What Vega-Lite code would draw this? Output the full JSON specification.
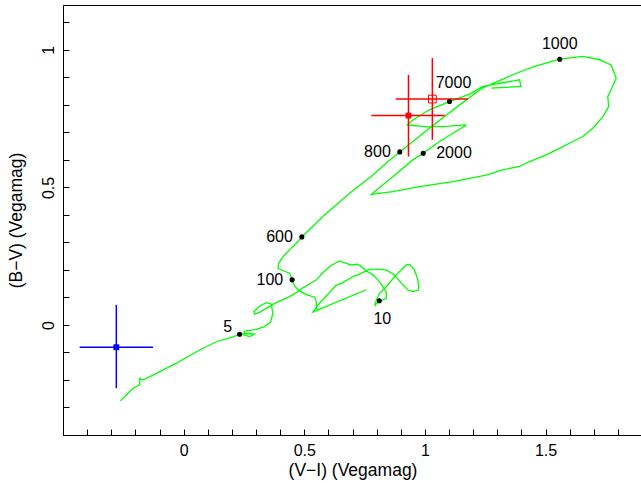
{
  "$schema": "https://vega.github.io/schema/vega-lite/v6.json",
  "width": 579,
  "height": 430,
  "autosize": "none",
  "padding": {"left": 63, "top": 5, "right": 0, "bottom": 48},
  "config": {
    "view": {"stroke": "black", "strokeWidth": 1},
    "font": "Liberation Sans",
    "axis": {"grid": false, "labelFont": "Liberation Sans", "titleFont": "Liberation Sans", "labelColor": "black", "titleColor": "black", "tickColor": "black", "domainColor": "black", "titleFontWeight": "normal", "tickWidth": 1, "domainWidth": 1, "labelFlush": false, "labelOverlap": false}
  },
  "datasets": {
    "track": [
      {"i":1,"vi":-0.262,"bv":-0.276},{"i":2,"vi":-0.252,"bv":-0.267},{"i":3,"vi":-0.231,"bv":-0.248},{"i":4,"vi":-0.210,"bv":-0.230},
      {"i":5,"vi":-0.182,"bv":-0.218},{"i":6,"vi":-0.182,"bv":-0.194},{"i":7,"vi":-0.169,"bv":-0.200},{"i":8,"vi":-0.113,"bv":-0.176},
      {"i":9,"vi":-0.030,"bv":-0.139},{"i":10,"vi":0.066,"bv":-0.091},{"i":11,"vi":0.136,"bv":-0.061},{"i":12,"vi":0.204,"bv":-0.043},
      {"i":13,"vi":0.232,"bv":-0.034},{"i":14,"vi":0.261,"bv":-0.031},{"i":15,"vi":0.294,"bv":-0.033},{"i":16,"vi":0.274,"bv":-0.042},
      {"i":17,"vi":0.249,"bv":-0.036},{"i":18,"vi":0.253,"bv":-0.022},{"i":19,"vi":0.301,"bv":-0.016},{"i":20,"vi":0.336,"bv":-0.006},
      {"i":21,"vi":0.361,"bv":0.012},{"i":22,"vi":0.370,"bv":0.043},{"i":23,"vi":0.363,"bv":0.076},{"i":24,"vi":0.343,"bv":0.081},
      {"i":25,"vi":0.315,"bv":0.069},{"i":26,"vi":0.291,"bv":0.048},{"i":27,"vi":0.294,"bv":0.039},{"i":28,"vi":0.315,"bv":0.046},
      {"i":29,"vi":0.349,"bv":0.064},{"i":30,"vi":0.384,"bv":0.081},{"i":31,"vi":0.439,"bv":0.103},{"i":32,"vi":0.474,"bv":0.121},
      {"i":33,"vi":0.494,"bv":0.135},{"i":34,"vi":0.522,"bv":0.149},{"i":35,"vi":0.551,"bv":0.164},{"i":36,"vi":0.576,"bv":0.189},
      {"i":37,"vi":0.609,"bv":0.215},{"i":38,"vi":0.646,"bv":0.233},{"i":39,"vi":0.674,"bv":0.224},{"i":40,"vi":0.695,"bv":0.218},
      {"i":41,"vi":0.722,"bv":0.221},{"i":42,"vi":0.736,"bv":0.212},{"i":43,"vi":0.757,"bv":0.197},{"i":44,"vi":0.785,"bv":0.182},
      {"i":45,"vi":0.805,"bv":0.164},{"i":46,"vi":0.826,"bv":0.139},{"i":47,"vi":0.840,"bv":0.117},{"i":48,"vi":0.840,"bv":0.097},
      {"i":49,"vi":0.826,"bv":0.091},{"i":50,"vi":0.811,"bv":0.088},{"i":51,"vi":0.792,"bv":0.070},{"i":52,"vi":0.799,"bv":0.091},
      {"i":53,"vi":0.812,"bv":0.115},{"i":54,"vi":0.840,"bv":0.139},{"i":55,"vi":0.881,"bv":0.182},{"i":56,"vi":0.923,"bv":0.218},
      {"i":57,"vi":0.937,"bv":0.220},{"i":58,"vi":0.957,"bv":0.200},{"i":59,"vi":0.971,"bv":0.164},{"i":60,"vi":0.975,"bv":0.127},
      {"i":61,"vi":0.950,"bv":0.121},{"i":62,"vi":0.930,"bv":0.127},{"i":63,"vi":0.902,"bv":0.152},{"i":64,"vi":0.874,"bv":0.182},
      {"i":65,"vi":0.840,"bv":0.200},{"i":66,"vi":0.799,"bv":0.203},{"i":67,"vi":0.771,"bv":0.203},{"i":68,"vi":0.722,"bv":0.182},
      {"i":69,"vi":0.702,"bv":0.176},{"i":70,"vi":0.654,"bv":0.151},{"i":71,"vi":0.633,"bv":0.145},{"i":72,"vi":0.571,"bv":0.086},
      {"i":73,"vi":0.550,"bv":0.065},{"i":74,"vi":0.536,"bv":0.047},{"i":75,"vi":0.557,"bv":0.055},{"i":76,"vi":0.757,"bv":0.128},
      {"i":77,"vi":0.557,"bv":0.055},{"i":78,"vi":0.550,"bv":0.062},{"i":79,"vi":0.550,"bv":0.086},{"i":80,"vi":0.543,"bv":0.101},
      {"i":81,"vi":0.509,"bv":0.110},{"i":82,"vi":0.481,"bv":0.123},{"i":83,"vi":0.460,"bv":0.141},{"i":84,"vi":0.450,"bv":0.164},
      {"i":85,"vi":0.439,"bv":0.188},{"i":86,"vi":0.412,"bv":0.197},{"i":87,"vi":0.391,"bv":0.206},{"i":88,"vi":0.394,"bv":0.224},
      {"i":89,"vi":0.412,"bv":0.248},{"i":90,"vi":0.439,"bv":0.273},{"i":91,"vi":0.467,"bv":0.297},{"i":92,"vi":0.490,"bv":0.320},
      {"i":93,"vi":0.577,"bv":0.394},{"i":94,"vi":0.688,"bv":0.479},{"i":95,"vi":0.785,"bv":0.545},{"i":96,"vi":0.847,"bv":0.594},
      {"i":97,"vi":0.896,"bv":0.629},{"i":98,"vi":1.019,"bv":0.715},{"i":99,"vi":1.144,"bv":0.800},{"i":100,"vi":1.240,"bv":0.862},
      {"i":101,"vi":1.317,"bv":0.891},{"i":102,"vi":1.379,"bv":0.915},{"i":103,"vi":1.455,"bv":0.940},{"i":104,"vi":1.559,"bv":0.966},
      {"i":105,"vi":1.655,"bv":0.976},{"i":106,"vi":1.724,"bv":0.964},{"i":107,"vi":1.772,"bv":0.945},{"i":108,"vi":1.793,"bv":0.897},
      {"i":109,"vi":1.772,"bv":0.855},{"i":110,"vi":1.758,"bv":0.830},{"i":111,"vi":1.762,"bv":0.794},{"i":112,"vi":1.738,"bv":0.757},
      {"i":113,"vi":1.696,"bv":0.715},{"i":114,"vi":1.655,"bv":0.685},{"i":115,"vi":1.613,"bv":0.667},{"i":116,"vi":1.558,"bv":0.642},
      {"i":117,"vi":1.503,"bv":0.618},{"i":118,"vi":1.434,"bv":0.594},{"i":119,"vi":1.392,"bv":0.576},{"i":120,"vi":1.323,"bv":0.564},
      {"i":121,"vi":1.254,"bv":0.545},{"i":122,"vi":1.116,"bv":0.521},{"i":123,"vi":0.978,"bv":0.503},{"i":124,"vi":0.867,"bv":0.485},
      {"i":125,"vi":0.778,"bv":0.475},{"i":126,"vi":0.867,"bv":0.539},{"i":127,"vi":0.950,"bv":0.600},{"i":128,"vi":0.993,"bv":0.624},
      {"i":129,"vi":1.061,"bv":0.667},{"i":130,"vi":1.172,"bv":0.727},{"i":131,"vi":1.089,"bv":0.722},{"i":132,"vi":1.011,"bv":0.720},
      {"i":133,"vi":0.927,"bv":0.727},{"i":134,"vi":0.950,"bv":0.745},{"i":135,"vi":1.019,"bv":0.782},{"i":136,"vi":1.102,"bv":0.812},
      {"i":137,"vi":1.185,"bv":0.839},{"i":138,"vi":1.240,"bv":0.867},{"i":139,"vi":1.392,"bv":0.891},{"i":140,"vi":1.399,"bv":0.867},
      {"i":141,"vi":1.275,"bv":0.861}
    ],
    "obs": [
      {"src":"A","vi":-0.279,"bv":-0.081,"vi_lo":-0.431,"vi_hi":-0.127,"bv_lo":-0.230,"bv_hi":0.073,"open":false},
      {"src":"B","vi":0.932,"bv":0.761,"vi_lo":0.778,"vi_hi":1.082,"bv_lo":0.612,"bv_hi":0.909,"open":false},
      {"src":"C","vi":1.031,"bv":0.821,"vi_lo":0.879,"vi_hi":1.178,"bv_lo":0.673,"bv_hi":0.970,"open":true}
    ],
    "ages": [
      {"age":"5","vi":0.232,"bv":-0.034},
      {"age":"10","vi":0.811,"bv":0.088},
      {"age":"100","vi":0.450,"bv":0.164},
      {"age":"600","vi":0.490,"bv":0.320},
      {"age":"800","vi":0.896,"bv":0.629},
      {"age":"1000","vi":1.559,"bv":0.966},
      {"age":"2000","vi":0.993,"bv":0.624},
      {"age":"7000","vi":1.102,"bv":0.812}
    ]
  },
  "layer": [
    {
      "data": {"name": "track"},
      "mark": {"type": "line", "color": "#00ff00", "strokeWidth": 1.3},
      "encoding": {
        "x": {"field": "vi", "type": "quantitative", "scale": {"domain": [-0.5, 1.9], "nice": false, "zero": false},
              "axis": {"orient": "bottom", "values": [-0.4, -0.3, -0.2, -0.1, 0, 0.1, 0.2, 0.3, 0.4, 0.5, 0.6, 0.7, 0.8, 0.9, 1, 1.1, 1.2, 1.3, 1.4, 1.5, 1.6, 1.7, 1.8],
                       "labelExpr": "abs(datum.value*2 - round(datum.value*2)) < 0.001 ? format(datum.value, '~g') : ''",
                       "ticks": true, "tickSize": -6, "domain": true, "labelFontSize": 16, "labelPadding": 13, "title": "(V−I) (Vegamag)", "titleFontSize": 17.5, "titlePadding": 3}},
        "y": {"field": "bv", "type": "quantitative", "scale": {"domain": [-0.4, 1.163], "nice": false, "zero": false},
              "axis": {"orient": "left", "values": [-0.3, -0.2, -0.1, 0, 0.1, 0.2, 0.3, 0.4, 0.5, 0.6, 0.7, 0.8, 0.9, 1, 1.1],
                       "labelExpr": "abs(datum.value*2 - round(datum.value*2)) < 0.001 ? format(datum.value, '~g') : ''",
                       "ticks": true, "tickSize": -6, "domain": true, "labelFontSize": 16, "labelPadding": 13, "labelAngle": -90, "labelAlign": "center", "labelBaseline": "bottom", "title": "(B−V) (Vegamag)", "titleFontSize": 17.5, "titlePadding": 15}},
        "order": {"field": "i", "type": "quantitative"}
      }
    },
    {
      "data": {"name": "obs"},
      "mark": {"type": "rule", "strokeWidth": 1.5},
      "encoding": {
        "x": {"field": "vi_lo", "type": "quantitative", "scale": {"domain": [-0.5, 1.9], "nice": false, "zero": false}, "axis": null},
        "x2": {"field": "vi_hi"},
        "y": {"field": "bv", "type": "quantitative", "scale": {"domain": [-0.4, 1.163], "nice": false, "zero": false}, "axis": null},
        "color": {"field": "src", "type": "nominal", "scale": {"domain": ["A", "B", "C"], "range": ["#0000ff", "#ff0000", "#ff0000"]}, "legend": null}
      }
    },
    {
      "data": {"name": "obs"},
      "mark": {"type": "rule", "strokeWidth": 1.5},
      "encoding": {
        "x": {"field": "vi", "type": "quantitative", "scale": {"domain": [-0.5, 1.9], "nice": false, "zero": false}, "axis": null},
        "y": {"field": "bv_lo", "type": "quantitative", "scale": {"domain": [-0.4, 1.163], "nice": false, "zero": false}, "axis": null},
        "y2": {"field": "bv_hi"},
        "color": {"field": "src", "type": "nominal", "scale": {"domain": ["A", "B", "C"], "range": ["#0000ff", "#ff0000", "#ff0000"]}, "legend": null}
      }
    },
    {
      "data": {"name": "obs"},
      "transform": [{"filter": "!datum.open"}],
      "mark": {"type": "square", "filled": true, "size": 34, "opacity": 1},
      "encoding": {
        "x": {"field": "vi", "type": "quantitative", "scale": {"domain": [-0.5, 1.9], "nice": false, "zero": false}, "axis": null},
        "y": {"field": "bv", "type": "quantitative", "scale": {"domain": [-0.4, 1.163], "nice": false, "zero": false}, "axis": null},
        "color": {"field": "src", "type": "nominal", "scale": {"domain": ["A", "B", "C"], "range": ["#0000ff", "#ff0000", "#ff0000"]}, "legend": null}
      }
    },
    {
      "data": {"name": "obs"},
      "transform": [{"filter": "datum.open"}],
      "mark": {"type": "square", "filled": false, "size": 60, "strokeWidth": 1, "opacity": 1},
      "encoding": {
        "x": {"field": "vi", "type": "quantitative", "scale": {"domain": [-0.5, 1.9], "nice": false, "zero": false}, "axis": null},
        "y": {"field": "bv", "type": "quantitative", "scale": {"domain": [-0.4, 1.163], "nice": false, "zero": false}, "axis": null},
        "color": {"field": "src", "type": "nominal", "scale": {"domain": ["A", "B", "C"], "range": ["#0000ff", "#ff0000", "#ff0000"]}, "legend": null}
      }
    },
    {
      "data": {"name": "ages"},
      "mark": {"type": "circle", "size": 26, "color": "black", "opacity": 1},
      "encoding": {
        "x": {"field": "vi", "type": "quantitative", "scale": {"domain": [-0.5, 1.9], "nice": false, "zero": false}, "axis": null},
        "y": {"field": "bv", "type": "quantitative", "scale": {"domain": [-0.4, 1.163], "nice": false, "zero": false}, "axis": null}
      }
    },
    {
      "data": {"name": "ages"},
      "transform": [{"filter": {"field": "age", "oneOf": ["800", "600", "100"]}}],
      "mark": {"type": "text", "font": "Liberation Sans", "fontSize": 16, "color": "black", "align": "right", "baseline": "middle", "dx": -9},
      "encoding": {
        "x": {"field": "vi", "type": "quantitative", "scale": {"domain": [-0.5, 1.9], "nice": false, "zero": false}, "axis": null},
        "y": {"field": "bv", "type": "quantitative", "scale": {"domain": [-0.4, 1.163], "nice": false, "zero": false}, "axis": null},
        "text": {"field": "age"}
      }
    },
    {
      "data": {"name": "ages"},
      "transform": [{"filter": {"field": "age", "oneOf": ["2000"]}}],
      "mark": {"type": "text", "font": "Liberation Sans", "fontSize": 16, "color": "black", "align": "left", "baseline": "middle", "dx": 13},
      "encoding": {
        "x": {"field": "vi", "type": "quantitative", "scale": {"domain": [-0.5, 1.9], "nice": false, "zero": false}, "axis": null},
        "y": {"field": "bv", "type": "quantitative", "scale": {"domain": [-0.4, 1.163], "nice": false, "zero": false}, "axis": null},
        "text": {"field": "age"}
      }
    },
    {
      "data": {"name": "ages"},
      "transform": [{"filter": {"field": "age", "oneOf": ["1000"]}}],
      "mark": {"type": "text", "font": "Liberation Sans", "fontSize": 16, "color": "black", "align": "center", "baseline": "middle", "dy": -15},
      "encoding": {
        "x": {"field": "vi", "type": "quantitative", "scale": {"domain": [-0.5, 1.9], "nice": false, "zero": false}, "axis": null},
        "y": {"field": "bv", "type": "quantitative", "scale": {"domain": [-0.4, 1.163], "nice": false, "zero": false}, "axis": null},
        "text": {"field": "age"}
      }
    },
    {
      "data": {"name": "ages"},
      "transform": [{"filter": {"field": "age", "oneOf": ["7000"]}}],
      "mark": {"type": "text", "font": "Liberation Sans", "fontSize": 16, "color": "black", "align": "center", "baseline": "middle", "dx": 4, "dy": -19},
      "encoding": {
        "x": {"field": "vi", "type": "quantitative", "scale": {"domain": [-0.5, 1.9], "nice": false, "zero": false}, "axis": null},
        "y": {"field": "bv", "type": "quantitative", "scale": {"domain": [-0.4, 1.163], "nice": false, "zero": false}, "axis": null},
        "text": {"field": "age"}
      }
    },
    {
      "data": {"name": "ages"},
      "transform": [{"filter": {"field": "age", "oneOf": ["10"]}}],
      "mark": {"type": "text", "font": "Liberation Sans", "fontSize": 16, "color": "black", "align": "center", "baseline": "middle", "dx": 3, "dy": 18},
      "encoding": {
        "x": {"field": "vi", "type": "quantitative", "scale": {"domain": [-0.5, 1.9], "nice": false, "zero": false}, "axis": null},
        "y": {"field": "bv", "type": "quantitative", "scale": {"domain": [-0.4, 1.163], "nice": false, "zero": false}, "axis": null},
        "text": {"field": "age"}
      }
    },
    {
      "data": {"name": "ages"},
      "transform": [{"filter": {"field": "age", "oneOf": ["5"]}}],
      "mark": {"type": "text", "font": "Liberation Sans", "fontSize": 16, "color": "black", "align": "center", "baseline": "middle", "dx": -12, "dy": -7},
      "encoding": {
        "x": {"field": "vi", "type": "quantitative", "scale": {"domain": [-0.5, 1.9], "nice": false, "zero": false}, "axis": null},
        "y": {"field": "bv", "type": "quantitative", "scale": {"domain": [-0.4, 1.163], "nice": false, "zero": false}, "axis": null},
        "text": {"field": "age"}
      }
    }
  ],
  "resolve": {"axis": {"x": "independent", "y": "independent"}}
}
